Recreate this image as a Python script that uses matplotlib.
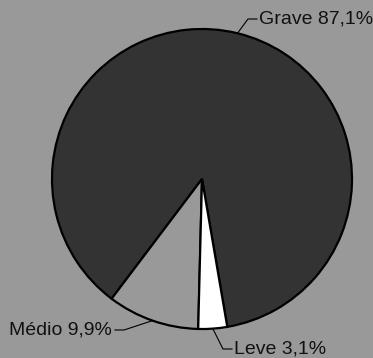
import numpy as np
import matplotlib.pyplot as plt

categorias = ['Grave', 'Médio', 'Leve']
percentuais = [87.1, 9.9, 3.1]
cores = ['#333333', '#999999', '#ffffff']

fig = plt.figure(figsize=(3.73, 3.58), dpi=100, facecolor='#999999')
ax = fig.add_axes([0, 0, 1, 1])
ax.set_facecolor('#999999')

# pie in pixel-like data units: centre (202, 179), radius 150
cx, cy, r = 202, 179, 150
wedges, _ = ax.pie(percentuais, colors=cores, startangle=-80.3, counterclock=True,
                   center=(cx, cy), radius=r, frame=True,
                   wedgeprops=dict(edgecolor='black', linewidth=1.6))

ax.set_xlim(0, 373)
ax.set_ylim(0, 358)
ax.set_aspect('equal')
ax.axis('off')

# label placement: (text x, text y, horizontal alignment, elbow points)
layout = {
    'Grave': (259, 339, 'left', [(248, 339), (257, 339)]),
    'Médio': (112, 28, 'right', [(124, 28), (115, 28)]),
    'Leve': (234, 9, 'left', [(223, 9), (232, 9)]),
}

for w, nome, pct in zip(wedges, categorias, percentuais):
    ang = np.deg2rad((w.theta1 + w.theta2) / 2)
    ex, ey = cx + r * np.cos(ang), cy + r * np.sin(ang)
    tx, ty, ha, pts = layout[nome]
    xs = [ex] + [p[0] for p in pts]
    ys = [ey] + [p[1] for p in pts]
    ax.plot(xs, ys, color='black', linewidth=0.8)
    texto = f'{nome} {pct:.1f}%'.replace('.', ',')
    ax.text(tx, ty, texto, ha=ha, va='center', fontsize=14,
            family='Liberation Sans', color='#111111')

fig.savefig('out.png', dpi=100, facecolor=fig.get_facecolor())
